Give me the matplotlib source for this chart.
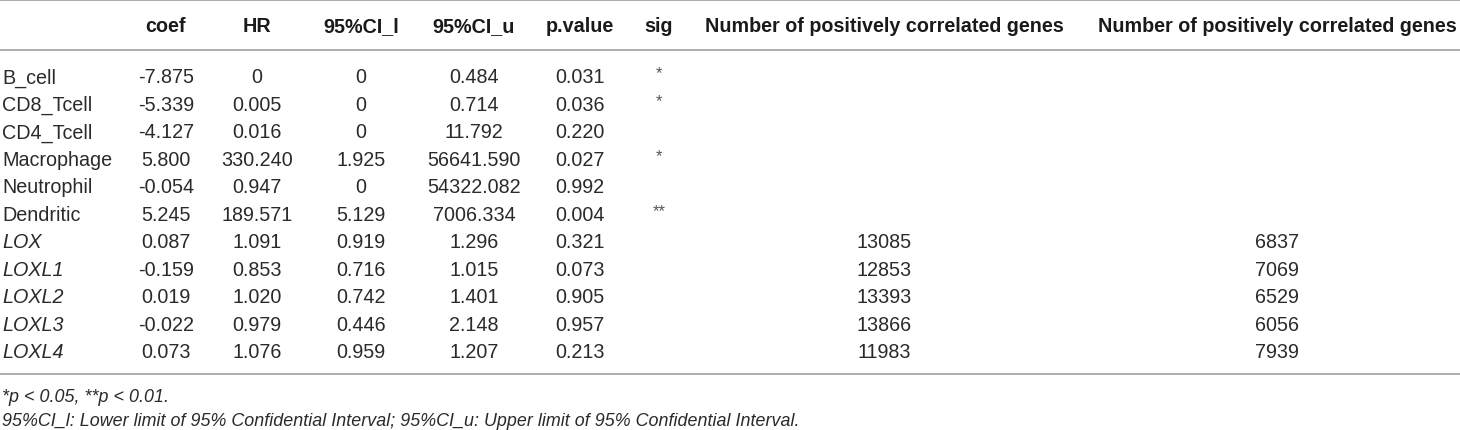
import matplotlib
matplotlib.use("Agg")
import matplotlib.pyplot as plt

# ---- data ----
headers = ["", "coef", "HR", "95%CI_l", "95%CI_u", "p.value", "sig",
           "Number of positively correlated genes",
           "Number of positively correlated genes"]
rows = ["B_cell", "CD8_Tcell", "CD4_Tcell", "Macrophage", "Neutrophil",
        "Dendritic", "LOX", "LOXL1", "LOXL2", "LOXL3", "LOXL4"]
italic_rows = [False, False, False, False, False, False, True, True, True, True, True]
coef = ["-7.875", "-5.339", "-4.127", "5.800", "-0.054", "5.245",
        "0.087", "-0.159", "0.019", "-0.022", "0.073"]
hr = ["0", "0.005", "0.016", "330.240", "0.947", "189.571",
      "1.091", "0.853", "1.020", "0.979", "1.076"]
ci_l = ["0", "0", "0", "1.925", "0", "5.129",
        "0.919", "0.716", "0.742", "0.446", "0.959"]
ci_u = ["0.484", "0.714", "11.792", "56641.590", "54322.082", "7006.334",
        "1.296", "1.015", "1.401", "2.148", "1.207"]
pval = ["0.031", "0.036", "0.220", "0.027", "0.992", "0.004",
        "0.321", "0.073", "0.905", "0.957", "0.213"]
sig = ["*", "*", "", "*", "", "**", "", "", "", "", ""]
n_pos1 = ["", "", "", "", "", "", "13085", "12853", "13393", "13866", "11983"]
n_pos2 = ["", "", "", "", "", "", "6837", "7069", "6529", "6056", "7939"]
footnotes = ["*p < 0.05, **p < 0.01.",
             "95%CI_l: Lower limit of 95% Confidential Interval; 95%CI_u: Upper limit of 95% Confidential Interval."]

# ---- layout ----
W, H = 1460, 431
plt.rcParams['font.family'] = ['Liberation Sans', 'DejaVu Sans']
fig = plt.figure(figsize=(W / 100, H / 100), dpi=100)
ax = fig.add_axes([0, 0, 1, 1])
ax.set_xlim(0, W)
ax.set_ylim(H, 0)
ax.axis('off')

fs = 14.2
fs_note = 12.9
body_color = '#2a2a2a'
line_color = '#a6a6a6'
col_x = [2, 166, 257, 361, 474, 580, 659, 884, 1277]
header_base = 32.5
row_base0 = 83.3
row_step = 27.5

for ln_y in (1.0, 50.7, 375.0):
    ax.axhline(ln_y, color=line_color, lw=1.3)

for j, h in enumerate(headers):
    if not h:
        continue
    ax.text(col_x[j], header_base, h, ha='center', va='baseline',
            fontsize=fs, fontweight='bold', color='#1a1a1a')

columns = [coef, hr, ci_l, ci_u, pval]
for i, name in enumerate(rows):
    yb = row_base0 + i * row_step
    ax.text(col_x[0], yb, name, ha='left', va='baseline', fontsize=fs,
            color=body_color, style='italic' if italic_rows[i] else 'normal')
    for j, col in enumerate(columns):
        ax.text(col_x[j + 1], yb, col[i], ha='center', va='baseline',
                fontsize=fs, color=body_color)
    if sig[i]:
        ax.text(col_x[6], yb - 5, sig[i], ha='center', va='baseline',
                fontsize=fs * 0.85, color='#555555')
    if n_pos1[i]:
        ax.text(col_x[7], yb, n_pos1[i], ha='center', va='baseline',
                fontsize=fs, color=body_color)
    if n_pos2[i]:
        ax.text(col_x[8], yb, n_pos2[i], ha='center', va='baseline',
                fontsize=fs, color=body_color)

ax.text(2, 402, footnotes[0], ha='left', va='baseline', fontsize=fs_note,
        style='italic', color=body_color)
ax.text(2, 426.5, footnotes[1], ha='left', va='baseline', fontsize=fs_note,
        style='italic', color=body_color)

fig.savefig('out.png', dpi=100)
